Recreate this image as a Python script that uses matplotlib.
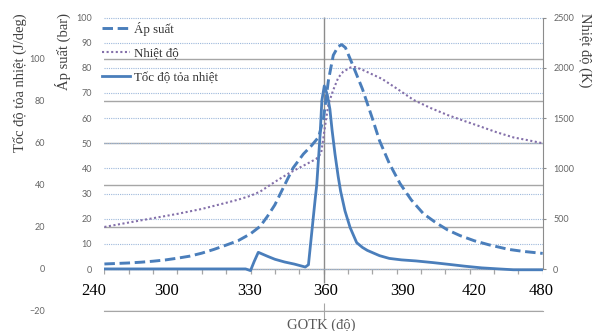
import numpy as np
import matplotlib
matplotlib.use("Agg")
import matplotlib.pyplot as plt

# Cylinder pressure (bar) against crank angle (deg)
ang_p = [270, 275, 280, 285, 290, 295, 300, 305, 310, 315, 320, 325, 330, 334,
         337, 340, 343.5, 347.5, 351.7, 355, 358, 360, 362, 364, 366, 367.5,
         369, 371.6, 376, 380, 383, 387, 391.4, 396, 401, 406, 411, 416, 422,
         428, 436, 442, 450]
pressure = [2.0, 2.2, 2.4, 2.7, 3.1, 3.6, 4.3, 5.1, 6.3, 7.8, 9.5, 11.3, 14.0,
            17.0, 21.0, 25.5, 32.4, 40.2, 45.7, 49.0, 52.5, 60.0, 75.0, 85.0,
            88.5, 89.2, 88.0, 82.0, 71.5, 60.0, 51.0, 42.0, 34.0, 27.5, 22.0,
            18.5, 15.5, 13.3, 11.2, 9.6, 7.8, 7.0, 6.2]

# In-cylinder temperature (K)
ang_t = [270, 280, 290, 300, 310, 320, 325, 330, 334, 340, 346, 353, 357, 359,
         360.5, 362, 364, 366, 368, 371, 373, 376, 380, 384, 390, 397, 404,
         411, 418, 424, 431, 438, 444, 450]
temperature = [418, 462, 505, 548, 597, 658, 690, 728, 770, 866, 955, 1043,
               1095, 1150, 1400, 1640, 1780, 1900, 1960, 2003, 2008, 1980,
               1935, 1890, 1795, 1680, 1600, 1530, 1470, 1420, 1360, 1308,
               1280, 1250]

# Heat release rate (J/deg)
ang_q = [270, 280, 290, 300, 310, 320, 328, 330, 331.5, 333.2, 335, 337, 340,
         344, 348, 352.5, 353.8, 355.1, 356.5, 357.2, 358.6, 359.3, 360.3,
         361.5, 362.6, 363.5, 364.7, 366, 367, 368.8, 370.9, 373.6, 376, 378,
         383, 387, 392, 398, 405, 412, 418, 425, 432, 438, 450]
heat_rate = [0, 0, 0, 0, 0, 0, 0, -0.8, 3.5, 7.9, 7.0, 6.0, 4.6, 3.3, 2.3,
             0.9, 2.0, 16.7, 32.5, 40.0, 64.0, 80.0, 87.0, 83.0, 76.0, 66.0,
             54.6, 44.0, 37.0, 27.6, 19.7, 12.5, 10.2, 8.8, 6.3, 5.0, 4.3, 3.8,
             3.0, 2.1, 1.3, 0.5, 0.0, -0.4, -0.4]

# Axis annotations
xtick_pos = [265.7, 295.5, 329.5, 361, 392.6, 422, 449.3]
xtick_labels = ["240", "300", "330", "360", "390", "420", "480"]
heat_ticks = [-20, 0, 20, 40, 60, 80, 100]
pres_ticks = list(range(0, 101, 10))
temp_ticks = list(range(0, 2501, 500))

SERIF = ["Liberation Serif", "DejaVu Serif"]
SANS = ["Lato", "DejaVu Sans"]
BLUE = "#4a7ebb"
PURPLE = "#8470aa"
GRID = "#a6a6a6"
DOTGRID = "#9db8db"
TICKC = "#666666"
TITLEC = "#404040"

W, H = 595, 331
fig = plt.figure(figsize=(W / 100, H / 100), dpi=100)
L, R, T, B = 104.4, 542.7, 16.5, 311
rect = [L / W, 1 - B / H, (R - L) / W, (B - T) / H]

ax_h = fig.add_axes(rect)      # heat-release scale, frame and solid grid
ax_p = ax_h.twinx()            # pressure scale
ax_t = ax_h.twinx()            # temperature scale
ax_q = ax_h.twinx()            # heat-release curve on top

for a in (ax_h, ax_p, ax_t, ax_q):
    for s in a.spines.values():
        s.set_visible(False)
    a.set_xlim(270, 450)

# heat-release axis
ax_h.set_ylim(-20, 120)
ax_h.set_yticks(heat_ticks)
ax_h.tick_params(axis="y", length=0, pad=42.8, labelsize=6.5,
                 labelcolor=TICKC)
for lab in ax_h.get_yticklabels():
    lab.set_family(SANS)
ax_h.yaxis.grid(True, color=GRID, lw=1.0)
ax_h.set_axisbelow(True)
ax_h.spines["bottom"].set_visible(True)
ax_h.spines["bottom"].set_color(GRID)
ax_h.set_xticks([360])
ax_h.set_xticklabels([""])
ax_h.tick_params(axis="x", direction="inout", length=11, color=GRID)

# baseline minor ticks and the TDC marker
ax_h.vlines(np.arange(270, 451, 10), -2.4, 0, color=GRID, lw=0.9)
ax_h.vlines(360, -6.5, 120, color="#8c8c8c", lw=1.0)

for pos, lab in zip(xtick_pos, xtick_labels):
    ax_h.text(pos, -10.5, lab, ha="center", va="center", fontsize=12,
              family=SERIF, color="black")

# pressure axis
ax_p.set_ylim(-16.7, 100.4)
ax_p.yaxis.set_ticks_position("left")
ax_p.set_yticks(pres_ticks)
ax_p.tick_params(axis="y", length=0, pad=8.9, labelsize=6.5,
                 labelcolor=TICKC)
for lab in ax_p.get_yticklabels():
    lab.set_family(SANS)
ax_p.yaxis.grid(True, color=DOTGRID, lw=0.8, linestyle=(0, (1, 1)))
ax_p.set_axisbelow(True)
lp, = ax_p.plot(ang_p, pressure, color=BLUE, lw=2.1,
                linestyle=(0, (3.6, 1.6)), dash_capstyle="butt",
                label="Áp suất")

# temperature axis
ax_t.set_ylim(-417.5, 2510)
ax_t.spines["right"].set_visible(True)
ax_t.spines["right"].set_color("#8c8c8c")
ax_t.spines["right"].set_bounds(0, 2500)
ax_t.set_yticks(temp_ticks)
ax_t.tick_params(axis="y", direction="out", length=2.5, pad=5,
                 labelsize=6.5, labelcolor=TICKC, color="#8c8c8c")
for lab in ax_t.get_yticklabels():
    lab.set_family(SANS)
lt, = ax_t.plot(ang_t, temperature, color=PURPLE, lw=1.5,
                linestyle=(0, (1, 1.2)), label="Nhiệt độ")

# heat-release curve
ax_q.set_ylim(-20, 120)
ax_q.set_yticks([])
lq, = ax_q.plot(ang_q, heat_rate, color=BLUE, lw=2.0,
                solid_joinstyle="round", label="Tốc độ tỏa nhiệt")

ax_q.legend(handles=[lp, lt, lq], loc="upper left",
            bbox_to_anchor=(102 / W, 1 - 22 / H),
            bbox_transform=fig.transFigure, frameon=False,
            prop={"family": SERIF, "size": 9.3}, handlelength=2.2,
            handletextpad=0.3, labelspacing=0.9, borderpad=0,
            borderaxespad=0, labelcolor="#333333")

# axis titles
fig.text(20 / W, 1 - 13 / H, "Tốc độ tỏa nhiệt (J/deg)", rotation=90,
         ha="center", va="top", fontsize=10.5, family=SERIF, color=TITLEC)
fig.text(63 / W, 1 - 13 / H, "Áp suất (bar)", rotation=90,
         ha="center", va="top", fontsize=10.5, family=SERIF, color=TITLEC)
fig.text(585 / W, 1 - 13 / H, "Nhiệt độ (K)", rotation=270,
         ha="center", va="top", fontsize=10.5, family=SERIF, color=TITLEC)
fig.text(321 / W, 1 - 325 / H, "GOTK (độ)", ha="center", va="center",
         fontsize=10.5, family=SERIF, color="#595959")

fig.savefig("out.png", dpi=100)
